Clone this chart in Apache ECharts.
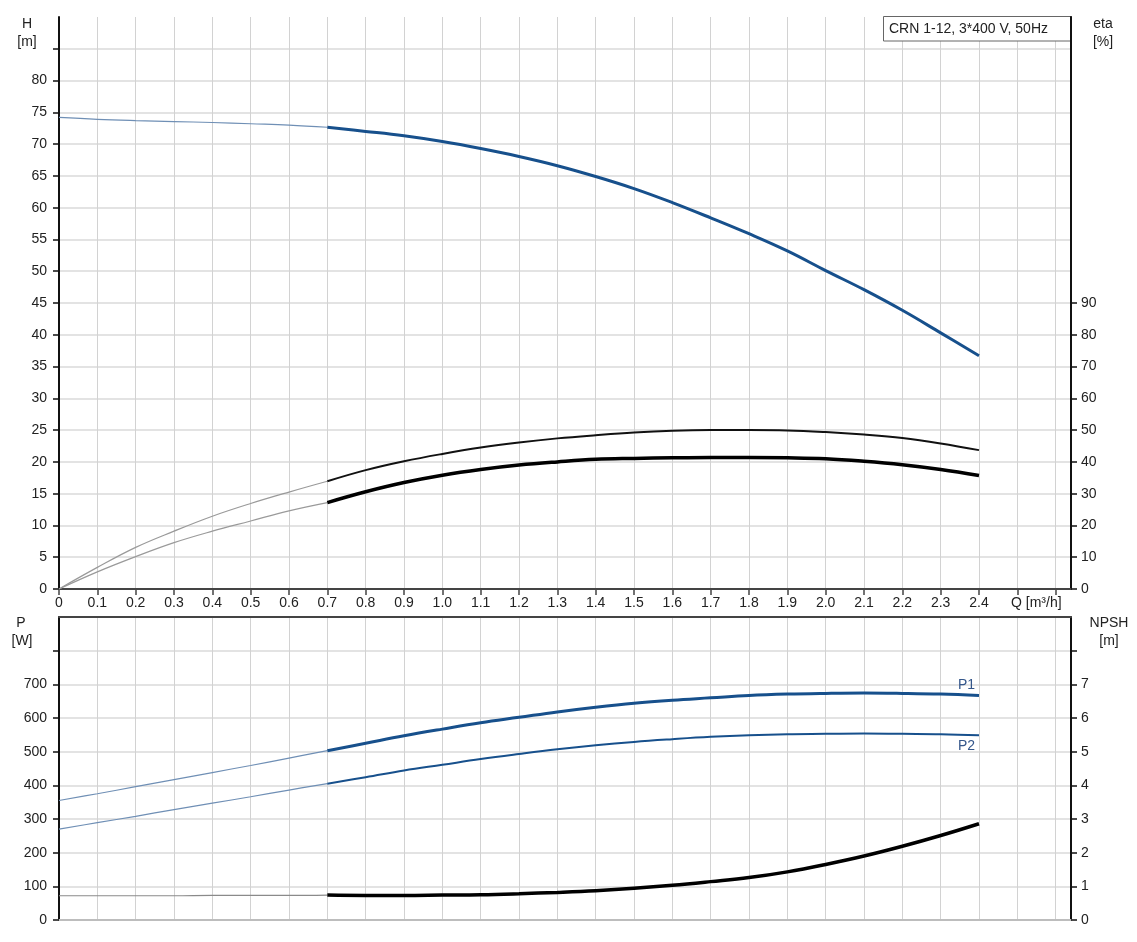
<!DOCTYPE html>
<html>
<head>
<meta charset="utf-8">
<script src="https://cdn.jsdelivr.net/npm/echarts@6/dist/echarts.min.js"></script>
<style>
html,body{margin:0;padding:0;background:#fff;}
#c{width:1137px;height:942px;}
</style>
</head>
<body>
<div id="c"></div>
<script>
// ---- data ----
const Q = [0,0.1,0.2,0.3,0.4,0.5,0.6,0.7,0.8,0.9,1.0,1.1,1.2,1.3,1.4,1.5,1.6,1.7,1.8,1.9,2.0,2.1,2.2,2.3,2.4];
const H = [74.2,73.9,73.7,73.55,73.4,73.2,73.0,72.65,72.0,71.3,70.4,69.3,68.05,66.6,64.9,63.0,60.8,58.4,55.9,53.2,50.1,47.1,43.85,40.3,36.7];
const ETA_PUMP = [0,6.8,13.1,18.2,22.9,26.9,30.5,33.9,37.4,40.2,42.5,44.5,46.1,47.4,48.4,49.25,49.8,50.0,50.0,49.9,49.4,48.6,47.5,45.8,43.7];
const ETA_TOTAL = [0,5.4,10.2,14.6,18.2,21.4,24.6,27.2,30.6,33.5,35.8,37.6,39.0,40.0,40.8,41.1,41.3,41.4,41.4,41.3,41.0,40.2,39.1,37.6,35.7];
const P1 = [355,375,396,417,438,459,481,503,525,547,567,586,602,618,632,644,653,660,667,671,673,674,673,671,667];
const P2 = [270,289,308,328,347,366,386,405,424,444,461,478,493,507,519,529,537,544,549,552,553,554,553,552,549];
const NPSH = [0.72,0.72,0.72,0.72,0.73,0.73,0.73,0.74,0.73,0.73,0.74,0.75,0.78,0.82,0.87,0.94,1.03,1.14,1.26,1.43,1.65,1.90,2.19,2.51,2.86];
const X_TICKS = [0,0.1,0.2,0.3,0.4,0.5,0.6,0.7,0.8,0.9,1.0,1.1,1.2,1.3,1.4,1.5,1.6,1.7,1.8,1.9,2.0,2.1,2.2,2.3,2.4,2.5,2.6];
const X_LABELS = [0,0.1,0.2,0.3,0.4,0.5,0.6,0.7,0.8,0.9,1.0,1.1,1.2,1.3,1.4,1.5,1.6,1.7,1.8,1.9,2.0,2.1,2.2,2.3,2.4];
const H_TICKS = [0,5,10,15,20,25,30,35,40,45,50,55,60,65,70,75,80,85];
const H_LABELS = [0,5,10,15,20,25,30,35,40,45,50,55,60,65,70,75,80];
const ETA_TICKS = [0,10,20,30,40,50,60,70,80,90];
const P_TICKS = [0,100,200,300,400,500,600,700,800];
const P_LABELS = [0,100,200,300,400,500,600,700];
const NPSH_TICKS = [0,1,2,3,4,5,6,7,8];
const NPSH_LABELS = [0,1,2,3,4,5,6,7];
const TITLE = 'CRN 1-12, 3*400 V, 50Hz';
const SPLIT = 7; // index of Q = 0.7 where the thin part ends

const FONT = 'Liberation Sans, Arial, sans-serif';
const TXT = '#222';
const BLUE = '#17508c';

function pairs(ys, from, to){ const out=[]; for(let i=from;i<=to;i++) out.push([Q[i], ys[i]]); return out; }
const last = Q.length-1;

const chart = echarts.init(document.getElementById('c'), null, {renderer:'canvas'});

const xBase = {
  type:'value', min:0, max:2.64, interval:0.1,
  splitLine:{show:true, lineStyle:{color:'#d2d2d2', width:1}},
};

const SM = 0.4;

const option = {
  animation:false,
  backgroundColor:'#fff',
  grid:[
    {left:59, top:17, width:1012, height:572},
    {left:59, top:617, width:1012, height:303}
  ],
  xAxis:[
    Object.assign({}, xBase, {gridIndex:0, position:'bottom',
      axisLine:{show:true, onZero:false, lineStyle:{color:'#444', width:2}},
      axisTick:{show:true, length:6, customValues:X_TICKS, lineStyle:{color:'#444', width:1.5}},
      axisLabel:{show:true, customValues:X_LABELS, margin:7, fontFamily:FONT, fontSize:14, color:TXT,
        formatter:v => v===0 ? '0' : v.toFixed(1)}
    }),
    Object.assign({}, xBase, {gridIndex:1, position:'bottom',
      axisLine:{show:true, onZero:false, lineStyle:{color:'#bdbdbd', width:2}},
      axisTick:{show:false}, axisLabel:{show:false}
    }),
    {type:'value', gridIndex:1, position:'top', min:0, max:2.64,
      axisLine:{show:true, onZero:false, lineStyle:{color:'#444', width:2}},
      axisTick:{show:false}, axisLabel:{show:false}, splitLine:{show:false}}
  ],
  yAxis:[
    {type:'value', gridIndex:0, position:'left', min:0, max:90, interval:5,
      axisLine:{show:true, onZero:false, lineStyle:{color:'#111', width:2}},
      axisTick:{show:true, length:6, customValues:H_TICKS, lineStyle:{color:'#111', width:1.5}},
      axisLabel:{customValues:H_LABELS, margin:12, fontFamily:FONT, fontSize:14, color:TXT},
      splitLine:{show:true, lineStyle:{color:'#e3e3e3', width:2}}},
    {type:'value', gridIndex:0, position:'right', min:0, max:180, interval:10,
      axisLine:{show:true, onZero:false, lineStyle:{color:'#111', width:2}},
      axisTick:{show:true, length:6, customValues:ETA_TICKS, lineStyle:{color:'#111', width:1.5}},
      axisLabel:{customValues:ETA_TICKS, margin:10, fontFamily:FONT, fontSize:14, color:TXT},
      splitLine:{show:false}},
    {type:'value', gridIndex:1, position:'left', min:0, max:900, interval:100,
      axisLine:{show:true, onZero:false, lineStyle:{color:'#111', width:2}},
      axisTick:{show:true, length:6, customValues:P_TICKS, lineStyle:{color:'#111', width:1.5}},
      axisLabel:{customValues:P_LABELS, margin:12, fontFamily:FONT, fontSize:14, color:TXT},
      splitLine:{show:true, lineStyle:{color:'#e3e3e3', width:2}}},
    {type:'value', gridIndex:1, position:'right', min:0, max:9, interval:1,
      axisLine:{show:true, onZero:false, lineStyle:{color:'#111', width:2}},
      axisTick:{show:true, length:6, customValues:NPSH_TICKS, lineStyle:{color:'#111', width:1.5}},
      axisLabel:{customValues:NPSH_LABELS, margin:10, fontFamily:FONT, fontSize:14, color:TXT},
      splitLine:{show:false}}
  ],
  series:[
    // H
    {type:'line', xAxisIndex:0, yAxisIndex:0, data:pairs(H,0,SPLIT), smooth:SM, symbol:'none',
      lineStyle:{color:'#6f8fb5', width:1.2}},
    {type:'line', xAxisIndex:0, yAxisIndex:0, data:pairs(H,SPLIT,last), smooth:SM, symbol:'none',
      lineStyle:{color:BLUE, width:3}},
    // eta pump (upper)
    {type:'line', xAxisIndex:0, yAxisIndex:1, data:pairs(ETA_PUMP,0,SPLIT), smooth:SM, symbol:'none',
      lineStyle:{color:'#9a9a9a', width:1.2}},
    {type:'line', xAxisIndex:0, yAxisIndex:1, data:pairs(ETA_PUMP,SPLIT,last), smooth:SM, symbol:'none',
      lineStyle:{color:'#111', width:2}},
    // eta total (lower)
    {type:'line', xAxisIndex:0, yAxisIndex:1, data:pairs(ETA_TOTAL,0,SPLIT), smooth:SM, symbol:'none',
      lineStyle:{color:'#9a9a9a', width:1.2}},
    {type:'line', xAxisIndex:0, yAxisIndex:1, data:pairs(ETA_TOTAL,SPLIT,last), smooth:SM, symbol:'none',
      lineStyle:{color:'#000', width:3.5}},
    // P1
    {type:'line', xAxisIndex:1, yAxisIndex:2, data:pairs(P1,0,SPLIT), smooth:SM, symbol:'none',
      lineStyle:{color:'#6f8fb5', width:1.2}},
    {type:'line', xAxisIndex:1, yAxisIndex:2, data:pairs(P1,SPLIT,last), smooth:SM, symbol:'none',
      lineStyle:{color:BLUE, width:3}},
    // P2
    {type:'line', xAxisIndex:1, yAxisIndex:2, data:pairs(P2,0,SPLIT), smooth:SM, symbol:'none',
      lineStyle:{color:'#6f8fb5', width:1.2}},
    {type:'line', xAxisIndex:1, yAxisIndex:2, data:pairs(P2,SPLIT,last), smooth:SM, symbol:'none',
      lineStyle:{color:BLUE, width:2}},
    // NPSH
    {type:'line', xAxisIndex:1, yAxisIndex:3, data:pairs(NPSH,0,SPLIT), smooth:SM, symbol:'none',
      lineStyle:{color:'#8a8a8a', width:1.2}},
    {type:'line', xAxisIndex:1, yAxisIndex:3, data:pairs(NPSH,SPLIT,last), smooth:SM, symbol:'none',
      lineStyle:{color:'#000', width:3.5}}
  ]
};
chart.setOption(option);

// text annotations placed through the chart's own coordinate system
const p1End = chart.convertToPixel({xAxisIndex:1, yAxisIndex:2}, [Q[last], P1[last]]);
const p2End = chart.convertToPixel({xAxisIndex:1, yAxisIndex:2}, [Q[last], P2[last]]);
const t = (x,y,text,align,color) => ({type:'text', x:x, y:y, style:{text:text, fill:color||TXT, font:'14px '+FONT, textAlign:align||'center', textVerticalAlign:'middle'}});

chart.setOption({graphic:[
  t(27,24,'H'), t(27,42,'[m]'),
  t(1103,24,'eta'), t(1103,42,'[%]'),
  t(21,623,'P'), t(22,641,'[W]'),
  t(1109,623,'NPSH'), t(1109,641,'[m]'),
  t(1011,603,'Q [m\u00b3/h]','left'),
  {type:'rect', shape:{x:883.5, y:16.5, width:188, height:24.5}, style:{fill:'#fff', stroke:'#666', lineWidth:1}},
  t(889,29,TITLE,'left'),
  t(p1End[0]-4, p1End[1]-10, 'P1', 'right', '#34568a'),
  t(p2End[0]-4, p2End[1]+11, 'P2', 'right', '#34568a')
]});
</script>
</body>
</html>
